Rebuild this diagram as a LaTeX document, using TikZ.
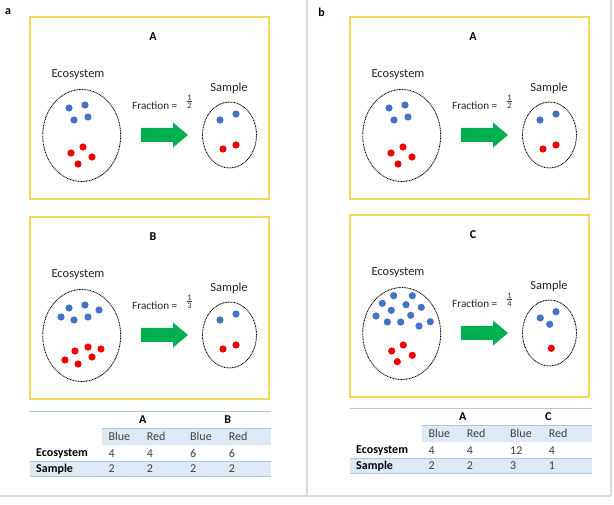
\documentclass[tikz,border=0pt]{standalone}
\usepackage{fontspec}
\setmainfont{Carlito}
\usetikzlibrary{shapes.geometric}
\definecolor{boxyellow}{RGB}{250,212,90}
\definecolor{dotblue}{RGB}{68,114,196}
\definecolor{dotred}{RGB}{240,0,0}
\definecolor{arrgreen}{RGB}{0,176,80}
\definecolor{tabfill}{RGB}{221,233,245}
\definecolor{tabline}{RGB}{170,200,230}
\definecolor{framegray}{RGB}{218,218,218}
\definecolor{numgray}{RGB}{64,64,64}
\tikzset{
  panelbox/.style={draw=boxyellow, line width=1.6pt},
  lbl/.style={inner sep=0pt, font=\fontsize{12.5}{15}\selectfont, text=black!85},
  fraclbl/.style={inner sep=0pt, font=\fontsize{11.2}{13}\selectfont, text=black!85},
  fracdig/.style={inner sep=0pt, font=\fontsize{8.3}{9}\selectfont, text=black!80},
  ttl/.style={inner sep=0pt, font=\fontsize{12}{14}\selectfont\bfseries},
  ecoell/.style={ellipse, draw, line width=0.9pt, dash pattern=on 0.9pt off 0.7pt, inner sep=0pt, minimum width=78pt, minimum height=92pt},
  sampell/.style={ellipse, draw, line width=0.9pt, dash pattern=on 0.9pt off 0.7pt, inner sep=0pt, minimum width=54pt, minimum height=66pt},
  tab/.style={inner sep=0pt, anchor=west, font=\fontsize{12}{14}\selectfont, text=numgray},
  tabb/.style={inner sep=0pt, anchor=west, font=\fontsize{12}{14}\selectfont\bfseries, text=black},
  tabh/.style={inner sep=0pt, font=\fontsize{12}{14}\selectfont\bfseries, text=black},
  framel/.style={draw=framegray, line width=1.2pt}
}
\newcommand\drawpanel[3]{%
  \draw[panelbox] (30,17) rectangle (269,199);
  \node[ttl] (#1title) at (153,37) {#2};
  \node[lbl] (#1ecolbl) at (78,74) {Ecosystem};
  \node[ecoell] (#1eco) at (81.7,135.5) {};
  \node[lbl] (#1samplbl) at (229,88) {Sample};
  \node[sampell] (#1samp) at (229.5,135) {};
  \node[fraclbl, anchor=west] (#1frac) at (132,105.5) {Fraction =};
  \node[fracdig] (#1num) at (189.5,97.4) {1};
  \node[fracdig] (#1den) at (189.5,106.2) {#3};
  \draw[black!80, line width=0.4pt] (186.6,101.7) -- (192.4,101.7);
  \fill[arrgreen] (141,128) -- (173,128) -- (173,122.5) -- (188,135) -- (173,147.5) -- (173,142) -- (141,142) -- cycle;
}
\newcommand\bdots[1]{\foreach \x/\y in {#1} {\fill[dotblue] (\x,\y) circle[radius=3.6pt];}}
\newcommand\rdots[1]{\foreach \x/\y in {#1} {\fill[dotred] (\x,\y) circle[radius=3.6pt];}}
\begin{document}
\begin{tikzpicture}[x=1pt,y=-1pt]
\useasboundingbox (0,0) rectangle (614,505);
\fill[white] (0,0) rectangle (614,505);
% frame
\draw[framel] (307,0) -- (307,496);
\draw[framel] (611,0) -- (611,496);
\draw[framel] (0,496) -- (611,496);
\node[ttl] (lbla) at (8,12) {a};
\node[ttl] (lblb) at (321.5,12) {b};
% panel a / A
\begin{scope}
  \drawpanel{aA}{A}{2}
  \bdots{69/108,85/105,74/120,88/117}
  \rdots{83/147,71/153,92/157,78/164}
  \bdots{220/120,236/114}
  \rdots{223/149,236/145}
\end{scope}
% panel a / B
\begin{scope}[shift={(0,200)}]
  \drawpanel{aB}{B}{3}
  \bdots{69/108,85/105,99/110,61/117,74/120,88/117}
  \rdots{88/147,101/149,75/151,92/157,65/160,78/164}
  \bdots{220/120,236/114}
  \rdots{223/149,236/145}
\end{scope}
% panel b / A
\begin{scope}[shift={(320,0)}]
  \drawpanel{bA}{A}{2}
  \bdots{69/108,85/105,74/120,88/117}
  \rdots{83/147,71/153,92/157,78/164}
  \bdots{220/120,236/114}
  \rdots{223/149,236/145}
\end{scope}
% panel b / C
\begin{scope}[shift={(320,198)}]
  \drawpanel{bC}{C}{4}
  \bdots{73.7/97.7,92.3/97.7,62.3/105.3,86/106.7,101.3/109.3,71.3/112.3,56/118,90.7/117.3,67.3/124,80.7/124,99/128,110.3/123.7}
  \rdots{83.3/147,71.7/153,92.3/157.3,77.3/163.7}
  \bdots{220.3/120,236/113.7,229.7/126.3}
  \rdots{231.3/150.3}
\end{scope}
% table a
\begin{scope}
  \fill[tabfill] (101.7,428.3) rectangle (271,445);
  \fill[tabfill] (30,461.7) rectangle (271,476);
  \draw[tabline, line width=0.8pt] (30,411.7) -- (271,411.7);
  \draw[tabline, line width=0.5pt] (101.7,428.3) -- (271,428.3);
  \draw[tabline, line width=0.5pt] (30,461.7) -- (271,461.7);
  \draw[tabline, line width=0.5pt] (30,476) -- (271,476);
  \node[tabh] (taA) at (142.7,420) {A};
  \node[tabh] (taB) at (227.7,420) {B};
  \node[tab] (ta1) at (108.3,436.7) {Blue};
  \node[tab] (ta2) at (146.7,436.7) {Red};
  \node[tab] (ta3) at (190,436.7) {Blue};
  \node[tab] (ta4) at (228.7,436.7) {Red};
  \node[tabb] (taeco) at (36,453.3) {Ecosystem};
  \node[tab] (tae1) at (108.3,453.3) {4};
  \node[tab] (tae2) at (146.7,453.3) {4};
  \node[tab] (tae3) at (190,453.3) {6};
  \node[tab] (tae4) at (228.7,453.3) {6};
  \node[tabb] (tasam) at (36,469) {Sample};
  \node[tab] (tas1) at (108.3,469) {2};
  \node[tab] (tas2) at (146.7,469) {2};
  \node[tab] (tas3) at (190,469) {2};
  \node[tab] (tas4) at (228.7,469) {2};
\end{scope}
% table b
\begin{scope}[shift={(320,-3)}]
  \fill[tabfill] (101.7,428.3) rectangle (272,445);
  \fill[tabfill] (30,461.7) rectangle (272,476);
  \draw[tabline, line width=0.8pt] (30,411.7) -- (272,411.7);
  \draw[tabline, line width=0.5pt] (101.7,428.3) -- (272,428.3);
  \draw[tabline, line width=0.5pt] (30,461.7) -- (272,461.7);
  \draw[tabline, line width=0.5pt] (30,476) -- (272,476);
  \node[tabh] (tbA) at (142.7,420) {A};
  \node[tabh] (tbC) at (228.3,420) {C};
  \node[tab] (tb1) at (108.3,436.7) {Blue};
  \node[tab] (tb2) at (146.7,436.7) {Red};
  \node[tab] (tb3) at (190,436.7) {Blue};
  \node[tab] (tb4) at (228.7,436.7) {Red};
  \node[tabb] (tbeco) at (36,453.3) {Ecosystem};
  \node[tab] (tbe1) at (108.3,453.3) {4};
  \node[tab] (tbe2) at (146.7,453.3) {4};
  \node[tab] (tbe3) at (190,453.3) {12};
  \node[tab] (tbe4) at (228.7,453.3) {4};
  \node[tabb] (tbsam) at (36,469) {Sample};
  \node[tab] (tbs1) at (108.3,469) {2};
  \node[tab] (tbs2) at (146.7,469) {2};
  \node[tab] (tbs3) at (190,469) {3};
  \node[tab] (tbs4) at (228.7,469) {1};
\end{scope}
\end{tikzpicture}
\end{document}
